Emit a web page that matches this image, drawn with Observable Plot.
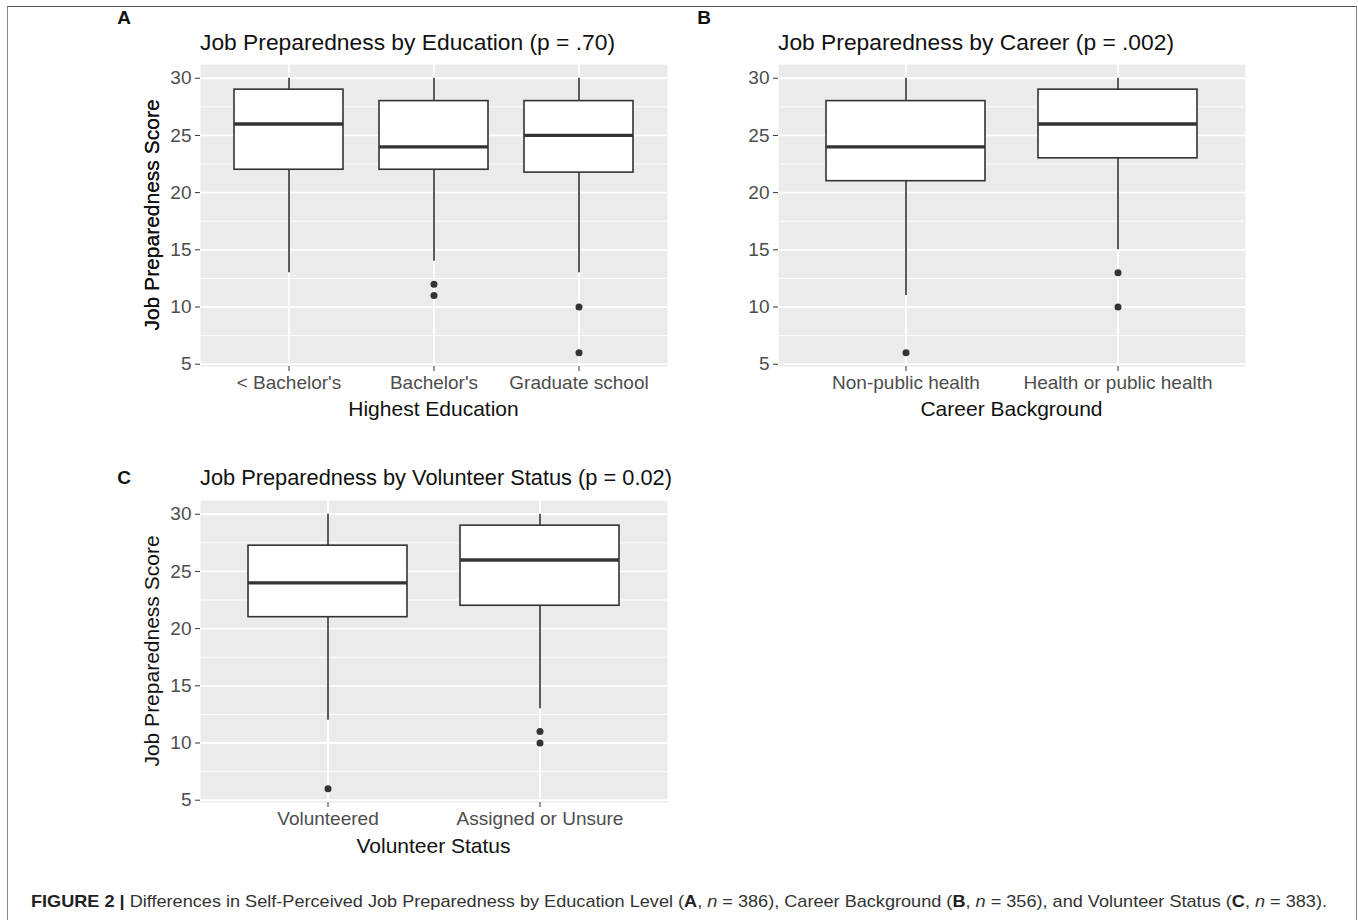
<!DOCTYPE html>
<html>
<head>
<meta charset="utf-8">
<script src="https://cdn.jsdelivr.net/npm/d3@7"></script>
<script src="https://cdn.jsdelivr.net/npm/@observablehq/plot@0.6"></script>
<style>
  html, body { margin: 0; padding: 0; background: #fff; }
  #page { position: relative; width: 1358px; height: 920px; overflow: hidden; background: #fff;
          font-family: "Liberation Sans", Arial, Helvetica, sans-serif; }
  #frame { position: absolute; left: 7px; top: 6px; width: 1348px; height: 930px;
           border-top: 1.5px solid #555; border-left: 1.5px solid #888; border-right: 1.5px solid #888; }
  .abs { position: absolute; white-space: nowrap; line-height: 1; }
  .letter { font-weight: bold; font-size: 19px; color: #111; transform: translate(-50%, -50%); }
  .title { color: #111; transform: translate(0, -50%); }
  .xtitle { font-size: 21px; color: #111; transform: translate(-50%, -50%); }
  .ytitle { font-size: 21px; color: #111; transform: translate(-50%, -50%) rotate(-90deg); }
  #caption { position: absolute; left: 31px; top: 901px; font-size: 17px; color: #333; white-space: nowrap;
             line-height: 1; transform-origin: 0 50%; }
  #caption b { color: #222; }
</style>
</head>
<body>
<div id="page">
  <div id="frame"></div>
  <div id="caption"><b>FIGURE 2 |</b> Differences in Self-Perceived Job Preparedness by Education Level (<b>A</b>, <i>n</i> = 386), Career Background (<b>B</b>, <i>n</i> = 356), and Volunteer Status (<b>C</b>, <i>n</i> = 383).</div>
</div>
<script>
// ---- Data ----
const yTicks = [5, 10, 15, 20, 25, 30];
const yMinor = [7.5, 12.5, 17.5, 22.5, 27.5];
const yDomain = [4.8, 31.2];
const yAxisTitle = "Job Preparedness Score";

const educationCategories = ["< Bachelor's", "Bachelor's", "Graduate school"];
const educationLower   = [13, 14, 13];
const educationQ1      = [22, 22, 21.75];
const educationMedian  = [26, 24, 25];
const educationQ3      = [29, 28, 28];
const educationUpper   = [30, 30, 30];
const educationOutliers = [[], [12, 11], [10, 6]];

const careerCategories = ["Non-public health", "Health or public health"];
const careerLower   = [11, 15];
const careerQ1      = [21, 23];
const careerMedian  = [24, 26];
const careerQ3      = [28, 29];
const careerUpper   = [30, 30];
const careerOutliers = [[6], [13, 10]];

const volunteerCategories = ["Volunteered", "Assigned or Unsure"];
const volunteerLower   = [12, 13];
const volunteerQ1      = [21, 22];
const volunteerMedian  = [24, 26];
const volunteerQ3      = [27.25, 29];
const volunteerUpper   = [30, 30];
const volunteerOutliers = [[6], [11, 10]];

const panels = [
  { letter: "A", title: "Job Preparedness by Education (p = .70)", xTitle: "Highest Education",
    categories: educationCategories, lower: educationLower, q1: educationQ1, median: educationMedian,
    q3: educationQ3, upper: educationUpper, outliers: educationOutliers, titleSize: 22.8,
    left: 200, right: 667, top: 64, bottom: 366, letterX: 124, letterY: 17, titleY: 42, xTitleY: 408 },
  { letter: "B", title: "Job Preparedness by Career (p = .002)", xTitle: "Career Background",
    categories: careerCategories, lower: careerLower, q1: careerQ1, median: careerMedian,
    q3: careerQ3, upper: careerUpper, outliers: careerOutliers, titleSize: 22.8,
    left: 778, right: 1245, top: 64, bottom: 366, letterX: 704, letterY: 17, titleY: 42, xTitleY: 408 },
  { letter: "C", title: "Job Preparedness by Volunteer Status (p = 0.02)", xTitle: "Volunteer Status",
    categories: volunteerCategories, lower: volunteerLower, q1: volunteerQ1, median: volunteerMedian,
    q3: volunteerQ3, upper: volunteerUpper, outliers: volunteerOutliers, titleSize: 21.8,
    left: 200, right: 667, top: 500, bottom: 802, letterX: 124, letterY: 477, titleY: 478, xTitleY: 845 }
];

const page = document.getElementById("page");

function addText(cls, text, x, y) {
  const d = document.createElement("div");
  d.className = "abs " + cls;
  d.textContent = text;
  d.style.left = x + "px";
  d.style.top = y + "px";
  page.appendChild(d);
  return d;
}

for (const p of panels) {
  const rows = p.categories.map((c, i) => ({
    cat: c, lower: p.lower[i], q1: p.q1[i], median: p.median[i], q3: p.q3[i], upper: p.upper[i]
  }));
  const outl = p.outliers.flatMap((arr, i) => arr.map(v => ({ cat: p.categories[i], v })));
  const ml = 70, mr = 20, mt = 10, mb = 45;
  const W = p.right - p.left, H = p.bottom - p.top;
  const svg = Plot.plot({
    width: W + ml + mr, height: H + mt + mb,
    marginLeft: ml, marginRight: mr, marginTop: mt, marginBottom: mb,
    style: { fontFamily: "'Liberation Sans', Arial, sans-serif", fontSize: "19px", background: "transparent", overflow: "visible" },
    x: { type: "band", domain: p.categories, paddingInner: 0.25, paddingOuter: 0.225, align: 0.5 },
    y: { domain: yDomain },
    marks: [
      Plot.frame({ fill: "#EBEBEB", stroke: "none" }),
      Plot.ruleY(yMinor, { stroke: "#fff", strokeWidth: 0.9 }),
      Plot.ruleY(yTicks, { stroke: "#fff", strokeWidth: 1.8 }),
      Plot.ruleX(p.categories, { stroke: "#fff", strokeWidth: 1.8 }),
      Plot.ruleX(rows, { x: "cat", y1: "lower", y2: "upper", stroke: "#333", strokeWidth: 1.6 }),
      Plot.barY(rows, { x: "cat", y1: "q1", y2: "q3", fill: "#fff", stroke: "#333", strokeWidth: 1.6 }),
      Plot.tickY(rows, { x: "cat", y: "median", stroke: "#333", strokeWidth: 3.4 }),
      Plot.dot(outl, { x: "cat", y: "v", r: 3.5, fill: "#333", stroke: "none" }),
      Plot.axisY({ ticks: yTicks, tickSize: 5, tickPadding: 4, label: null, stroke: "#333", fill: "#4d4d4d", fontSize: 19 }),
      Plot.axisX({ tickSize: 5, tickPadding: 4, label: null, stroke: "#333", fill: "#4d4d4d", fontSize: 19 })
    ]
  });
  svg.style.position = "absolute";
  svg.style.left = (p.left - ml) + "px";
  svg.style.top = (p.top - mt) + "px";
  page.appendChild(svg);

  addText("letter", p.letter, p.letterX, p.letterY);
  const t = addText("title", p.title, p.left, p.titleY);
  t.style.fontSize = p.titleSize + "px";
  addText("xtitle", p.xTitle, (p.left + p.right) / 2, p.xTitleY);
  addText("ytitle", yAxisTitle, 151, (p.top + p.bottom) / 2);
}

// fit caption width
const cap = document.getElementById("caption");
const w = cap.getBoundingClientRect().width;
cap.style.transform = "translate(0,-50%) scaleX(" + (1296 / w) + ")";
</script>
</body>
</html>
